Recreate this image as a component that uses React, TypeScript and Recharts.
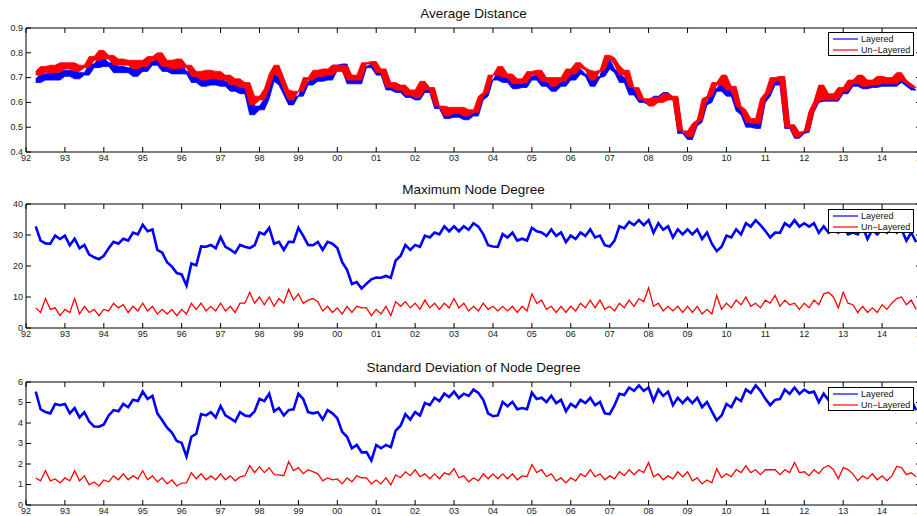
import { ComposedChart, Area, Line, XAxis, YAxis, ReferenceArea } from "recharts";

// samples every 1/8 year, starting spring 1992; the noise is kept as alternating high/low readings
const START = 1992.25;
const STEP = 0.125;

const yearTicks = [
  1992, 1993, 1994, 1995, 1996, 1997, 1998, 1999, 2000, 2001, 2002, 2003,
  2004, 2005, 2006, 2007, 2008, 2009, 2010, 2011, 2012, 2013, 2014, 2015,
];

const distTicks = [0.4, 0.5, 0.6, 0.7, 0.8, 0.9];
const maxTicks = [0, 10, 20, 30, 40];
const sdTicks = [0, 1, 2, 3, 4, 5, 6];

const distLayered = [
  0.695, 0.68, 0.715, 0.69, 0.72, 0.69,
  0.73, 0.705, 0.73, 0.695, 0.72, 0.71, 0.755, 0.74,
  0.78, 0.745, 0.76, 0.72, 0.745, 0.72, 0.74, 0.705,
  0.75, 0.725, 0.765, 0.75, 0.775, 0.725, 0.75, 0.715,
  0.755, 0.715, 0.725, 0.68, 0.7, 0.665, 0.705, 0.67,
  0.7, 0.665, 0.685, 0.645, 0.67, 0.635, 0.655, 0.55,
  0.585, 0.57, 0.615, 0.685, 0.72, 0.67, 0.63, 0.59,
  0.625, 0.625, 0.68, 0.67, 0.71, 0.685, 0.715, 0.69,
  0.75, 0.73, 0.755, 0.675, 0.695, 0.675, 0.745, 0.74,
  0.755, 0.71, 0.725, 0.65, 0.67, 0.64, 0.66, 0.62,
  0.64, 0.61, 0.675, 0.64, 0.65, 0.575, 0.575, 0.535,
  0.565, 0.54, 0.565, 0.53, 0.555, 0.545, 0.61, 0.625,
  0.69, 0.69, 0.725, 0.68, 0.695, 0.655, 0.675, 0.66,
  0.705, 0.69, 0.71, 0.665, 0.68, 0.645, 0.68, 0.665,
  0.71, 0.69, 0.735, 0.715, 0.705, 0.665, 0.7, 0.705,
  0.775, 0.735, 0.72, 0.68, 0.7, 0.63, 0.65, 0.6,
  0.605, 0.59, 0.625, 0.605, 0.64, 0.615, 0.62, 0.475,
  0.475, 0.45, 0.505, 0.52, 0.59, 0.6, 0.655, 0.645,
  0.685, 0.625, 0.64, 0.565, 0.55, 0.5, 0.515, 0.495,
  0.6, 0.625, 0.685, 0.67, 0.69, 0.495, 0.505, 0.455,
  0.475, 0.48, 0.56, 0.6, 0.665, 0.605, 0.63, 0.605,
  0.65, 0.635, 0.68, 0.665, 0.7, 0.655, 0.68, 0.66,
  0.695, 0.665, 0.69, 0.665, 0.71, 0.68, 0.665, 0.65,
];

const distUnlayered = [
  0.725, 0.71, 0.745, 0.72, 0.75, 0.72,
  0.76, 0.735, 0.76, 0.725, 0.75, 0.74, 0.785, 0.77,
  0.81, 0.775, 0.79, 0.75, 0.775, 0.75, 0.77, 0.735,
  0.77, 0.745, 0.785, 0.77, 0.8, 0.745, 0.77, 0.735,
  0.775, 0.74, 0.75, 0.705, 0.725, 0.69, 0.73, 0.695,
  0.725, 0.69, 0.71, 0.67, 0.695, 0.66, 0.68, 0.59,
  0.625, 0.61, 0.655, 0.715, 0.75, 0.7, 0.65, 0.61,
  0.645, 0.645, 0.7, 0.69, 0.73, 0.705, 0.735, 0.71,
  0.75, 0.725, 0.75, 0.69, 0.71, 0.69, 0.76, 0.755,
  0.765, 0.72, 0.735, 0.66, 0.68, 0.65, 0.67, 0.63,
  0.65, 0.62, 0.685, 0.65, 0.66, 0.585, 0.585, 0.545,
  0.58, 0.555, 0.58, 0.545, 0.57, 0.56, 0.625, 0.64,
  0.71, 0.71, 0.745, 0.7, 0.715, 0.675, 0.695, 0.68,
  0.725, 0.71, 0.73, 0.685, 0.7, 0.665, 0.7, 0.685,
  0.735, 0.715, 0.76, 0.74, 0.73, 0.69, 0.725, 0.73,
  0.79, 0.78, 0.75, 0.71, 0.73, 0.66, 0.66, 0.61,
  0.615, 0.585, 0.62, 0.6, 0.635, 0.61, 0.625, 0.485,
  0.485, 0.46, 0.515, 0.53, 0.615, 0.625, 0.68, 0.67,
  0.71, 0.65, 0.665, 0.585, 0.57, 0.52, 0.535, 0.515,
  0.615, 0.64, 0.7, 0.685, 0.705, 0.5, 0.51, 0.46,
  0.48, 0.485, 0.565, 0.605, 0.67, 0.61, 0.635, 0.61,
  0.66, 0.645, 0.69, 0.675, 0.71, 0.665, 0.69, 0.67,
  0.705, 0.675, 0.7, 0.675, 0.72, 0.69, 0.675, 0.66,
];

const maxLayered = [
  32.8, 28.2, 27.3, 27.2, 29.8, 28.7,
  29.8, 26.7, 28.8, 25.7, 26.8, 23.7, 22.8, 22.2,
  23.3, 25.7, 27.8, 27.2, 28.8, 28.2, 30.8, 30.2,
  33.3, 31.2, 31.8, 25.2, 24.3, 21.2, 19.8, 17.7,
  17.3, 13.7, 20.8, 20.2, 26.3, 26.2, 26.8, 25.7,
  29.3, 26.2, 25.3, 24.2, 26.8, 26.2, 25.8, 26.7,
  30.8, 30.2, 32.3, 27.2, 27.8, 25.2, 27.8, 27.7,
  32.3, 29.7, 26.8, 26.7, 27.8, 25.2, 27.8, 27.2,
  25.8, 21.2, 18.8, 14.2, 14.8, 12.7, 14.3, 15.7,
  16.3, 16.2, 16.8, 16.2, 21.8, 23.2, 26.8, 25.2,
  26.8, 26.2, 29.8, 29.2, 30.8, 30.2, 32.8, 31.2,
  32.8, 31.2, 32.8, 31.7, 33.8, 32.7, 30.3, 26.7,
  26.3, 26.2, 30.3, 29.2, 30.8, 28.2, 28.8, 28.2,
  32.3, 31.2, 30.8, 29.7, 31.8, 29.7, 30.8, 27.7,
  29.8, 28.7, 30.8, 29.7, 31.8, 29.2, 29.8, 26.7,
  26.3, 28.2, 32.8, 32.2, 34.3, 33.2, 34.8, 33.2,
  34.8, 30.7, 33.8, 31.7, 32.8, 29.2, 31.8, 30.2,
  31.8, 30.2, 31.8, 28.7, 30.8, 27.2, 24.8, 26.2,
  29.8, 29.2, 31.8, 30.2, 33.8, 32.7, 34.8, 33.2,
  31.3, 29.2, 30.8, 30.7, 33.8, 32.7, 34.8, 32.7,
  33.8, 32.7, 33.8, 30.7, 32.8, 30.7, 31.8, 30.7,
  32.8, 30.2, 30.8, 30.2, 32.8, 28.7, 31.8, 30.2,
  31.8, 30.7, 32.8, 30.7, 31.8, 28.2, 30.8, 27.7,
];

const maxUnlayered = [
  6.5, 5, 9.5, 6, 6.5, 4,
  6, 5, 9.5, 4.5, 7, 5, 6, 4,
  6, 5.5, 8, 6.5, 7.5, 5, 7, 5.5,
  8, 5.5, 7, 4.5, 6, 4.5, 6, 4,
  6, 4.5, 8, 6, 8, 5.5, 7, 5.5,
  8, 5.5, 7, 5, 8, 8, 11.5, 8,
  10, 7.5, 10, 7, 9.5, 8, 12.5, 9,
  11, 8, 9, 9.5, 8.5, 5.5, 7, 5,
  6.5, 4.5, 7, 5, 7, 6.5, 6.5, 4,
  6, 4.5, 7, 4, 8.5, 7, 8.5, 6.5,
  8, 6, 9, 6.5, 8, 6, 8, 6.5,
  9.5, 6.5, 8, 5.5, 7, 5.5, 8, 6,
  7, 5.5, 7, 5.5, 7, 5, 7, 5.5,
  11, 8, 9, 6, 7, 5, 7, 5,
  7, 5.5, 8, 6.5, 9, 6.5, 9, 6,
  7, 5.5, 8, 6.5, 9, 7, 9.5, 8.5,
  13, 7, 8, 5.5, 7, 5.5, 7, 5,
  7, 5, 7, 4.5, 6, 4.5, 10.5, 6,
  8, 6.5, 9, 7.5, 10, 7, 8, 6.5,
  9, 8, 10.5, 7, 9, 7.5, 8, 6,
  8, 6.5, 9, 7.5, 11, 11.5, 10, 6.5,
  11.5, 8, 7.5, 5, 7, 5, 6.5, 5,
  7.5, 6, 8, 9.5, 10, 7.5, 9, 6,
];

const sdLayered = [
  5.53, 4.67, 4.53, 4.47, 4.93, 4.87,
  4.93, 4.47, 4.73, 4.27, 4.53, 4.07, 3.83, 3.82,
  3.93, 4.37, 4.63, 4.57, 4.93, 4.77, 5.13, 5.07,
  5.53, 5.17, 5.33, 4.47, 4.13, 3.77, 3.53, 3.12,
  3.03, 2.37, 3.33, 3.47, 4.43, 4.37, 4.53, 4.27,
  4.83, 4.37, 4.23, 4.07, 4.53, 4.37, 4.33, 4.57,
  5.18, 5.07, 5.43, 4.57, 4.73, 4.37, 4.63, 4.67,
  5.43, 5.17, 4.53, 4.47, 4.53, 4.17, 4.63, 4.47,
  4.23, 3.57, 3.33, 2.77, 2.93, 2.57, 2.58, 2.17,
  2.93, 2.77, 2.93, 2.82, 3.63, 3.87, 4.43, 4.17,
  4.53, 4.37, 4.98, 4.87, 5.23, 5.07, 5.43, 5.27,
  5.53, 5.22, 5.43, 5.32, 5.63, 5.47, 5.13, 4.47,
  4.33, 4.37, 5.03, 4.82, 5.03, 4.67, 4.73, 4.67,
  5.48, 5.17, 5.23, 5.02, 5.33, 4.97, 5.13, 4.57,
  4.93, 4.77, 5.13, 4.97, 5.23, 4.87, 5.03, 4.47,
  4.43, 4.87, 5.43, 5.37, 5.73, 5.57, 5.83, 5.57,
  5.73, 5.07, 5.63, 5.32, 5.53, 4.87, 5.23, 4.97,
  5.23, 4.97, 5.23, 4.77, 5.03, 4.57, 4.13, 4.37,
  4.93, 4.77, 5.23, 5.07, 5.63, 5.47, 5.83, 5.57,
  5.18, 4.87, 5.13, 5.17, 5.63, 5.42, 5.73, 5.42,
  5.63, 5.47, 5.53, 5.02, 5.43, 5.12, 5.33, 5.12,
  5.43, 5.02, 5.13, 5.07, 5.43, 4.77, 5.33, 5.07,
  5.33, 5.12, 5.43, 5.12, 5.33, 4.77, 5.13, 4.62,
];

const sdUnlayered = [
  1.32, 1.18, 1.67, 1.18, 1.27, 1.08,
  1.32, 1.18, 1.67, 1.18, 1.42, 0.98, 1.12, 0.93,
  1.22, 1.13, 1.42, 1.23, 1.52, 1.23, 1.42, 1.28,
  1.67, 1.23, 1.42, 1.13, 1.32, 1.03, 1.22, 0.93,
  1.07, 1.08, 1.57, 1.28, 1.52, 1.23, 1.42, 1.23,
  1.52, 1.23, 1.42, 1.18, 1.37, 1.43, 1.92, 1.58,
  1.87, 1.58, 1.82, 1.48, 1.47, 1.43, 2.12, 1.68,
  1.82, 1.53, 1.72, 1.63, 1.52, 1.18, 1.32, 1.23,
  1.27, 1.03, 1.32, 1.13, 1.42, 1.33, 1.32, 1.03,
  1.22, 1.03, 1.32, 0.98, 1.47, 1.33, 1.62, 1.43,
  1.72, 1.38, 1.52, 1.28, 1.52, 1.28, 1.57, 1.48,
  1.77, 1.33, 1.42, 1.13, 1.32, 1.18, 1.52, 1.28,
  1.52, 1.28, 1.52, 1.28, 1.52, 1.23, 1.42, 1.38,
  1.97, 1.58, 1.72, 1.38, 1.52, 1.18, 1.32, 1.08,
  1.32, 1.18, 1.52, 1.38, 1.72, 1.38, 1.52, 1.23,
  1.42, 1.28, 1.62, 1.43, 1.72, 1.48, 1.72, 1.58,
  2.07, 1.38, 1.52, 1.23, 1.42, 1.28, 1.62, 1.38,
  1.62, 1.18, 1.32, 1.03, 1.22, 1.08, 1.77, 1.33,
  1.52, 1.38, 1.72, 1.58, 1.92, 1.58, 1.72, 1.48,
  1.72, 1.73, 1.72, 1.48, 1.72, 1.58, 2.07, 1.58,
  1.62, 1.43, 1.72, 1.53, 1.82, 1.93, 1.72, 1.28,
  1.82, 1.73, 1.52, 1.18, 1.42, 1.28, 1.52, 1.23,
  1.42, 1.18, 1.42, 1.88, 1.82, 1.48, 1.57, 1.38,
];

const FONT = '"Liberation Sans", Arial, Helvetica, sans-serif';
const BLUE = "#0000ff";
const RED = "#ff0000";
const CHART_W = 940;
const M_RIGHT = 19;
const Y_W = 26;
const PLOT_TOP = 28;
const PLOT_RIGHT = CHART_W - M_RIGHT;

// low/high span between a sample and the next one (used for the dense top panel)
function span(v: number[], i: number): [number, number] {
  const a = v[i];
  const b = i + 1 < v.length ? v[i + 1] : v[i];
  return [Math.min(a, b), Math.max(a, b)];
}

function rows(a: number[], b: number[]) {
  return a.map((_, i) => ({
    t: START + i * STEP,
    layered: a[i],
    unlayered: b[i],
    layeredSpan: span(a, i),
    unlayeredSpan: span(b, i),
  }));
}

const XTick = (props: any) => {
  const { x, y, payload } = props;
  const label = String(payload.value % 100).padStart(2, "0");
  const bottom = y - 3;
  return (
    <g>
      <line x1={x} x2={x} y1={bottom} y2={bottom - 5} stroke="#000" />
      <line x1={x} x2={x} y1={PLOT_TOP} y2={PLOT_TOP + 5} stroke="#000" />
      <text x={x} y={y} dy="0.71em" textAnchor="middle" fontSize={9} fill="#222" fontFamily={FONT}>
        {label}
      </text>
    </g>
  );
};

const makeYTick = (digits: number) => (props: any) => {
  const { x, y, payload } = props;
  const v = payload.value as number;
  return (
    <g>
      <line x1={x + 3} x2={x + 8} y1={y} y2={y} stroke="#000" />
      <line x1={PLOT_RIGHT - 5} x2={PLOT_RIGHT} y1={y} y2={y} stroke="#000" />
      <text x={x} y={y} dy="0.32em" textAnchor="end" fontSize={9} fill="#222" fontFamily={FONT}>
        {v.toFixed(digits)}
      </text>
    </g>
  );
};

function LegendBox({ top }: { top: number }) {
  return (
    <svg
      width={86}
      height={24}
      style={{ position: "absolute", left: 828, top, fontFamily: FONT }}
    >
      <rect x={0.5} y={0.5} width={85} height={23} fill="#fff" stroke="#000" />
      <line x1={5} x2={30} y1={7} y2={7} stroke={BLUE} strokeWidth={1.2} />
      <text x={33} y={7} dy="0.35em" fontSize={9} fill="#111">
        Layered
      </text>
      <line x1={5} x2={30} y1={18} y2={18} stroke={RED} strokeWidth={1.2} />
      <text x={33} y={18} dy="0.35em" fontSize={9} fill="#111">
        Un{"\u2212"}Layered
      </text>
    </svg>
  );
}

interface PanelProps {
  title: string;
  top: number;
  height: number;
  data: ReturnType<typeof rows>;
  domain: [number, number];
  ticks: number[];
  digits: number;
  legendTop: number;
  bands?: boolean;
}

function Panel({ title, top, height, data, domain, ticks, digits, legendTop, bands }: PanelProps) {
  return (
    <div style={{ position: "absolute", left: 0, top, width: CHART_W, height }}>
      <div
        style={{
          position: "absolute",
          left: Y_W,
          width: PLOT_RIGHT - Y_W,
          top: 6,
          textAlign: "center",
          fontFamily: FONT,
          fontSize: 13.5,
          lineHeight: "16px",
          color: "#111",
        }}
      >
        {title}
      </div>
      <ComposedChart
        width={CHART_W}
        height={height}
        data={data}
        margin={{ top: PLOT_TOP, right: M_RIGHT, bottom: 0, left: 0 }}
      >
        <XAxis
          dataKey="t"
          type="number"
          domain={[1992, 2015]}
          ticks={yearTicks}
          interval={0}
          height={20}
          tickSize={0}
          tickMargin={3}
          axisLine={false}
          tickLine={false}
          tick={<XTick />}
        />
        <YAxis
          type="number"
          domain={domain}
          ticks={ticks}
          interval={0}
          width={Y_W}
          tickSize={0}
          tickMargin={3}
          axisLine={false}
          tickLine={false}
          tick={makeYTick(digits)}
        />
        {bands ? (
          <Area
            dataKey="layeredSpan"
            stroke={BLUE}
            strokeWidth={0.8}
            fill={BLUE}
            fillOpacity={1}
            dot={false}
            activeDot={false}
            type="linear"
            isAnimationActive={false}
          />
        ) : (
          <Line
            dataKey="layered"
            stroke={BLUE}
            strokeWidth={2.6}
            dot={false}
            activeDot={false}
            type="linear"
            isAnimationActive={false}
          />
        )}
        {bands ? (
          <Area
            dataKey="unlayeredSpan"
            stroke={RED}
            strokeWidth={0.8}
            fill={RED}
            fillOpacity={1}
            dot={false}
            activeDot={false}
            type="linear"
            isAnimationActive={false}
          />
        ) : (
          <Line
            dataKey="unlayered"
            stroke={RED}
            strokeWidth={1.3}
            dot={false}
            activeDot={false}
            type="linear"
            isAnimationActive={false}
          />
        )}
        <ReferenceArea
          x1={1992}
          x2={2015}
          y1={domain[0]}
          y2={domain[1]}
          fill="none"
          fillOpacity={0}
          stroke="#000"
          strokeWidth={1}
          ifOverflow="visible"
        />
      </ComposedChart>
      <LegendBox top={legendTop} />
    </div>
  );
}

export default function App() {
  return (
    <div
      style={{
        position: "absolute",
        left: 0,
        top: 0,
        width: 917,
        height: 516,
        overflow: "hidden",
        background: "#fff",
      }}
    >
      <Panel
        title="Average Distance"
        top={0}
        height={172}
        data={rows(distLayered, distUnlayered)}
        domain={[0.4, 0.9]}
        ticks={distTicks}
        digits={1}
        legendTop={32}
        bands
      />
      <Panel
        title="Maximum Node Degree"
        top={176}
        height={172}
        data={rows(maxLayered, maxUnlayered)}
        domain={[0, 40]}
        ticks={maxTicks}
        digits={0}
        legendTop={33}
      />
      <Panel
        title="Standard Deviation of Node Degree"
        top={354}
        height={171}
        data={rows(sdLayered, sdUnlayered)}
        domain={[0, 6]}
        ticks={sdTicks}
        digits={0}
        legendTop={33}
      />
    </div>
  );
}
